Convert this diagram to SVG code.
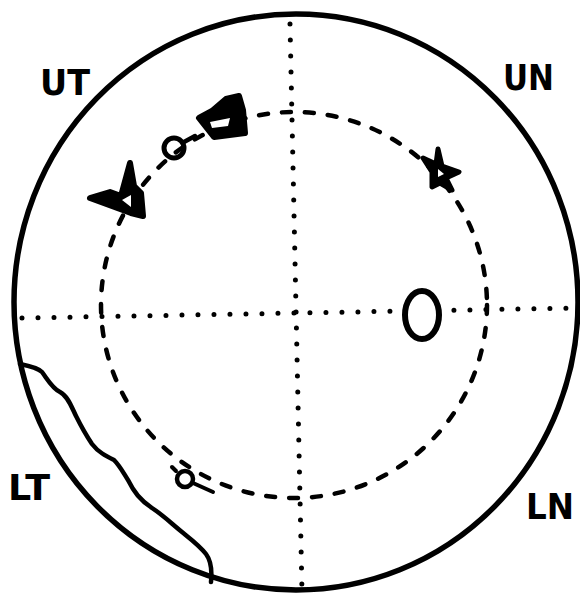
<svg xmlns="http://www.w3.org/2000/svg" width="580" height="596" viewBox="0 0 580 596">
<style>
.ink{fill:none;stroke:#000;stroke-linecap:round;stroke-linejoin:round}
.solid{fill:#000;stroke:#000;stroke-linecap:round;stroke-linejoin:round}
.dots{fill:none;stroke:#000;stroke-width:5;stroke-linecap:round;stroke-dasharray:0 16}
.dash{fill:none;stroke:#000;stroke-width:4.5;stroke-linecap:round;stroke-dasharray:9 14}
.lbl{font-family:"DejaVu Sans",sans-serif;font-weight:bold;font-size:36px;fill:#000}
</style>
<rect width="580" height="596" fill="#fff"/>
<g id="axes">
<line class="dots" x1="290" y1="24" x2="302" y2="592"/>
<line class="dots" x1="22" y1="318" x2="574" y2="308"/>
<circle class="dash" cx="294" cy="305" r="193"/>
</g>
<g id="outer">
<ellipse class="ink" cx="296" cy="302" rx="282" ry="288" stroke-width="5.5"/>
</g>
<g id="shore">
<path class="ink" stroke-width="4.5" d="M20,364 C30,366 38,368 42,372 C48,380 52,388 60,392 C68,396 72,408 76,416 C80,424 84,432 92,444 C98,452 106,456 114,460 C120,466 124,474 128,480 C134,492 140,500 152,508 C164,516 172,524 182,532 C192,540 200,546 206,554 C212,562 212,572 211,582"/>
</g>
<g id="sym-arrow">
<path class="solid" stroke-width="6" d="M130,163 L134,186 L141,193 L143,216 L131,213 L90,198 L110,192 L121,196 Z"/>
<path d="M122,200 L131,195 L131,207 Z" fill="#fff"/>
</g>
<g id="sym-circle-top">
<circle class="ink" stroke-width="5" cx="174" cy="148" r="10"/>
<line class="ink" stroke-width="4.5" x1="184" y1="142" x2="195" y2="136"/>
</g>
<g id="sym-shield">
<path class="solid" stroke-width="6" d="M199,118 L212,111 L226,99 L239,96 L243,110 L245,133 L214,137 Z"/>
<path d="M210,122 L230,118 L228,126 L212,128 Z" fill="#fff"/>
</g>
<g id="sym-star">
<path class="solid" stroke-width="5" d="M438,149 L442,166 L459,172 L446,178 L452,190 L440,183 L432,187 L432,172 L423,158 L436,164 Z"/>
<path d="M438,169 L444,174 L438,177 Z" fill="#fff"/>
</g>
<g id="sym-O">
<ellipse cx="422" cy="315" rx="17" ry="24" fill="#fff" stroke="#000" stroke-width="6"/>
</g>
<g id="sym-circle-low">
<circle class="ink" stroke-width="4.5" cx="185" cy="479" r="8"/>
<line class="ink" stroke-width="4" x1="193" y1="483" x2="213" y2="492"/>
<line class="ink" stroke-width="4" x1="172" y1="467" x2="176" y2="471"/>
</g>
<g id="labels">
<text class="lbl" x="40" y="95" textLength="50" lengthAdjust="spacingAndGlyphs">UT</text>
<text class="lbl" x="503" y="90" textLength="51" lengthAdjust="spacingAndGlyphs">UN</text>
<text class="lbl" x="8" y="500" textLength="42" lengthAdjust="spacingAndGlyphs">LT</text>
<text class="lbl" x="526" y="519" textLength="48" lengthAdjust="spacingAndGlyphs">LN</text>
</g>
</svg>
